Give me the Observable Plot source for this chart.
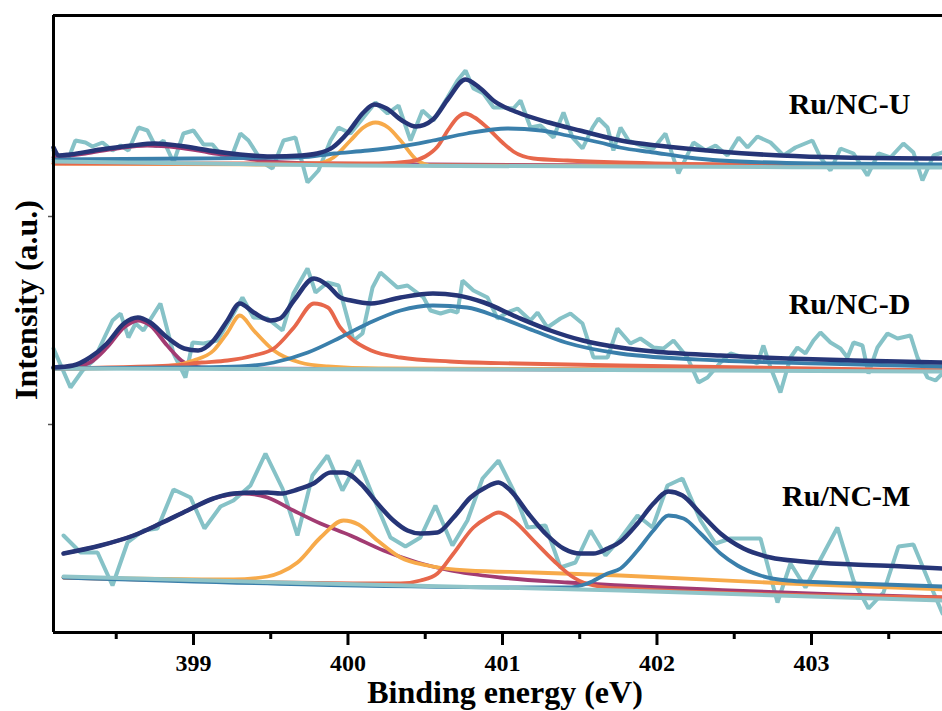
<!DOCTYPE html>
<html><head><meta charset="utf-8">
<script src="https://cdn.jsdelivr.net/npm/d3@7"></script>
<script src="https://cdn.jsdelivr.net/npm/@observablehq/plot@0.6"></script>
<style>html,body{margin:0;padding:0;background:#fff}</style>
</head><body><div id="chart"></div>
<script>
// ---------- axis ticks ----------
const xTicks = [399, 400, 401, 402, 403];
const xMinorTicks = [398.5, 399.5, 400.5, 401.5, 402.5, 403.5];
const yMinorTicks = [208, 416];
const sampleNames = ["Ru/NC-U", "Ru/NC-D", "Ru/NC-M"];
const sampleLabelY = [519, 319, 127];

// ---------- Ru/NC-U  ([binding energy eV, intensity a.u.]) ----------
const U_raw = [[398.094,482],[398.126,474],[398.178,469],[398.236,492],[398.301,490],[398.346,486],[398.411,490],[398.476,482],[398.528,487],[398.579,482],[398.644,505],[398.702,502],[398.754,486],[398.806,492],[398.871,470],[398.935,499],[399.000,502],[399.065,488],[399.123,488],[399.188,476],[399.252,478],[399.304,499],[399.356,492],[399.447,470],[399.511,464],[399.583,492],[399.660,495],[399.738,450],[399.809,462],[399.887,492],[399.939,505],[400.016,499],[400.178,530],[400.256,519],[400.327,527],[400.405,492],[400.482,522],[400.553,512],[400.644,535],[400.709,552],[400.761,562],[400.812,544],[400.877,539],[400.942,525],[401.006,525],[401.071,524],[401.117,532],[401.181,505],[401.246,507],[401.330,495],[401.395,520],[401.453,495],[401.518,484],[401.583,505],[401.621,514],[401.680,505],[401.718,482],[401.764,505],[401.816,492],[401.893,487],[401.977,484],[402.055,499],[402.139,459],[402.236,490],[402.314,482],[402.379,487],[402.456,477],[402.528,495],[402.586,485],[402.650,496],[402.735,490],[402.819,477],[402.896,485],[403.006,492],[403.058,475],[403.123,462],[403.188,484],[403.272,479],[403.362,457],[403.434,479],[403.511,475],[403.595,489],[403.660,480],[403.718,452],[403.790,477],[403.848,480]];
const U_envelope = [[398.094,485],[398.13,477],[398.2,478],[398.4,483],[398.6,487],[398.75,489],[398.9,487],[399.1,482],[399.3,478],[399.5,476],[399.7,477],[399.8,479],[399.9,485],[400.0,500],[400.1,520],[400.17,528],[400.25,524],[400.35,512],[400.44,506],[400.55,513],[400.65,534],[400.76,553],[400.85,545],[400.95,531],[401.1,520],[401.3,510],[401.5,502],[401.8,491],[402.0,487],[402.4,481],[402.8,477],[403.2,475],[403.848,474]];
const U_peak1 = [[398.094,475],[398.3,479],[398.5,484],[398.7,487],[398.9,485],[399.1,480],[399.3,475],[399.5,471],[399.8,469],[400.5,468],[403.848,466]];
const U_peak2 = [[398.094,469],[399.5,468],[399.8,469],[399.906,475],[400.016,492],[400.1,505],[400.178,510],[400.26,505],[400.34,492],[400.45,472],[400.55,467],[403.848,466]];
const U_peak3 = [[398.094,469],[400.2,469],[400.4,471],[400.5,476],[400.58,486],[400.65,503],[400.71,515],[400.76,519],[400.82,515],[400.9,505],[401.0,490],[401.07,481],[401.2,474],[401.42,472],[401.76,470],[402.5,468],[403.848,467]];
const U_peak4 = [[398.094,473],[399.0,474],[399.69,475],[399.91,479],[400.13,482],[400.34,486],[400.55,492],[400.77,499],[401.03,504],[401.25,502],[401.42,497],[401.63,490],[401.76,485],[401.98,480],[402.2,475],[402.41,472],[403.06,469],[403.848,468]];
const U_background = [[398.094,471],[400.0,467],[403.848,465]];

// ---------- Ru/NC-D ----------
const D_raw = [[398.094,284],[398.204,245],[398.282,262],[398.353,272],[398.476,312],[398.528,319],[398.579,295],[398.625,309],[398.676,302],[398.786,329],[398.871,279],[398.948,255],[398.994,290],[399.065,289],[399.155,292],[399.259,319],[399.317,335],[399.388,315],[399.479,314],[399.576,302],[399.647,339],[399.738,364],[399.790,340],[399.867,350],[399.939,347],[400.036,292],[400.094,299],[400.159,345],[400.210,360],[400.320,345],[400.385,347],[400.489,335],[400.534,322],[400.599,319],[400.663,322],[400.709,320],[400.741,352],[400.812,342],[400.903,335],[400.968,314],[401.032,320],[401.097,324],[401.181,312],[401.227,320],[401.291,305],[401.375,314],[401.440,319],[401.518,309],[401.589,275],[401.680,275],[401.744,304],[401.828,289],[401.893,294],[401.977,285],[402.042,284],[402.107,292],[402.197,275],[402.269,250],[402.327,255],[402.411,270],[402.476,279],[402.560,275],[402.650,269],[402.689,287],[402.735,265],[402.799,240],[402.864,275],[402.909,285],[402.961,279],[403.013,292],[403.058,300],[403.123,290],[403.188,284],[403.233,275],[403.272,290],[403.330,287],[403.369,259],[403.427,285],[403.492,299],[403.557,294],[403.641,297],[403.686,275],[403.751,255],[403.803,252],[403.848,259]];
const D_envelope = [[398.094,265],[398.22,267],[398.33,275],[398.44,289],[398.55,309],[398.64,315],[398.72,310],[398.83,295],[398.94,284],[399.03,282],[399.13,292],[399.22,312],[399.30,329],[399.39,320],[399.50,312],[399.56,314],[399.65,332],[399.78,354],[399.87,347],[399.95,335],[400.02,332],[400.15,329],[400.34,335],[400.55,339],[400.71,337],[400.88,330],[401.10,315],[401.31,302],[401.52,292],[401.76,285],[401.98,281],[402.41,277],[402.84,274],[403.27,272],[403.848,270]];
const D_peak1 = [[398.094,265],[398.22,266],[398.33,270],[398.44,285],[398.55,305],[398.64,312],[398.72,307],[398.83,287],[398.94,270],[399.05,265],[399.3,264],[403.848,262]];
const D_peak2 = [[398.094,264],[398.66,265],[398.87,267],[399.0,272],[399.13,282],[399.22,300],[399.30,317],[399.39,302],[399.52,282],[399.69,270],[399.87,266],[400.2,264],[403.848,262]];
const D_peak3 = [[398.094,264],[398.87,267],[399.05,270],[399.22,272],[399.39,277],[399.52,284],[399.65,305],[399.78,329],[399.87,325],[399.95,305],[400.02,294],[400.15,282],[400.34,275],[400.66,271],[401.10,269],[401.76,267],[403.848,262]];
const D_peak4 = [[398.094,264],[399.0,265],[399.3,266],[399.52,270],[399.74,280],[399.95,295],[400.13,309],[400.34,322],[400.55,327],[400.77,325],[400.98,315],[401.2,302],[401.41,290],[401.76,279],[402.41,272],[403.06,269],[403.848,266]];
const D_background = [[398.094,264],[401.0,263],[403.848,261]];

// ---------- Ru/NC-M ----------
const M_raw = [[398.159,97],[398.269,80],[398.379,80],[398.476,47],[398.573,90],[398.676,102],[398.767,104],[398.871,143],[398.981,135],[399.071,104],[399.175,126],[399.259,132],[399.369,147],[399.466,179],[399.576,144],[399.673,97],[399.770,157],[399.867,177],[399.964,142],[400.068,172],[400.165,135],[400.275,95],[400.372,86],[400.469,95],[400.566,127],[400.676,87],[400.773,112],[400.871,154],[400.974,172],[401.071,142],[401.162,105],[401.278,107],[401.375,65],[401.472,70],[401.570,102],[401.667,77],[401.764,94],[401.874,117],[401.971,105],[402.068,147],[402.165,154],[402.282,112],[402.379,89],[402.476,94],[402.670,94],[402.780,30],[402.864,69],[402.961,45],[403.168,105],[403.272,52],[403.369,24],[403.466,40],[403.563,86],[403.660,88],[403.757,52],[403.848,19]];
const M_envelope = [[398.159,79],[398.398,87],[398.612,97],[398.786,109],[398.961,122],[399.129,134],[399.259,139],[399.479,140],[399.563,139],[399.673,143],[399.777,149],[399.887,160],[399.971,160],[400.081,149],[400.191,129],[400.294,112],[400.385,102],[400.469,99],[400.579,100],[400.683,115],[400.793,135],[400.890,145],[400.974,150],[401.052,142],[401.162,120],[401.291,97],[401.395,84],[401.505,79],[401.589,79],[401.680,84],[401.764,91],[401.874,109],[401.977,129],[402.074,141],[402.165,137],[402.282,119],[402.411,99],[402.560,84],[402.735,75],[402.948,71],[403.272,68],[403.595,66],[403.848,64]];
const M_peak1 = [[398.159,79],[398.398,87],[398.612,97],[398.786,109],[398.961,122],[399.129,134],[399.324,139],[399.479,135],[399.647,122],[399.822,109],[400.016,97],[400.230,82],[400.450,70],[400.663,62],[400.987,55],[401.421,50],[401.764,47],[403.848,35]];
const M_peak2 = [[398.159,55],[399.259,53],[399.479,56],[399.563,60],[399.673,70],[399.822,95],[399.971,112],[400.068,108],[400.191,92],[400.340,75],[400.515,67],[400.773,62],[401.201,60],[401.764,57],[402.845,49],[403.848,43]];
const M_peak3 = [[398.159,55],[400.340,49],[400.469,52],[400.579,59],[400.683,79],[400.812,105],[400.903,115],[400.974,120],[401.071,112],[401.201,92],[401.330,72],[401.460,55],[401.589,47],[401.764,44],[403.848,35]];
const M_peak4 = [[398.159,55],[401.246,45],[401.421,45],[401.550,49],[401.680,59],[401.764,64],[401.874,82],[401.977,102],[402.074,117],[402.172,114],[402.282,99],[402.411,79],[402.521,67],[402.670,57],[402.845,52],[403.272,49],[403.848,46]];
const M_background = [[398.159,56],[399.822,49],[401.764,42],[403.848,32]];

// ---------- build long table ----------
const panels = {
  "Ru/NC-U": {raw: U_raw, envelope: U_envelope, peak1: U_peak1, peak2: U_peak2, peak3: U_peak3, peak4: U_peak4, background: U_background},
  "Ru/NC-D": {raw: D_raw, envelope: D_envelope, peak1: D_peak1, peak2: D_peak2, peak3: D_peak3, peak4: D_peak4, background: D_background},
  "Ru/NC-M": {raw: M_raw, envelope: M_envelope, peak1: M_peak1, peak2: M_peak2, peak3: M_peak3, peak4: M_peak4, background: M_background}
};
const rows = [];
for (const [panel, series] of Object.entries(panels)) {
  for (const [name, pts] of Object.entries(series)) {
    for (const [x, y] of pts) rows.push({panel, series: name, x, y});
  }
}
const sel = (s) => rows.filter(d => d.series === s);
const labels = sampleNames.map((t, i) => ({text: t, y: sampleLabelY[i]}));

const colors = {
  raw: "#86c2c7", envelope: "#263577", peak1: "#a23b72", peak2: "#f7aa4a",
  peak3: "#e7674b", peak4: "#3a7fab", background: "#8fc4c8"
};
const fit = (s, w) => Plot.line(sel(s), {x: "x", y: "y", z: "panel", stroke: colors[s], strokeWidth: w, curve: "monotone-x"});

const chart = Plot.plot({
  width: 942, height: 711,
  marginLeft: 53, marginRight: 0, marginTop: 15, marginBottom: 79,
  x: {domain: [398.094, 403.848]},
  y: {domain: [0, 617]},
  style: {fontFamily: "'Liberation Serif', 'Times New Roman', serif", fontWeight: "bold", color: "#000", background: "#fff"},
  marks: [
    Plot.line(sel("raw"), {x: "x", y: "y", z: "panel", stroke: colors.raw, strokeWidth: 4, strokeLinejoin: "miter"}),
    fit("peak1", 3.8),
    fit("peak2", 3.8),
    fit("peak3", 3.8),
    fit("peak4", 3.8),
    fit("background", 4),
    fit("envelope", 4.5),
    Plot.axisX(xMinorTicks, {tickSize: 7, strokeWidth: 3, tickFormat: () => "", label: null}),
    Plot.axisX(xTicks, {tickSize: 13, strokeWidth: 3, tickPadding: 8, fontSize: 24, fontWeight: "bold", tickFormat: d => String(d), label: null}),
    Plot.axisY(yMinorTicks, {tickSize: 5, strokeWidth: 1.5, stroke: "#555", tickFormat: () => "", label: null}),
    Plot.ruleY([0], {stroke: "#000", strokeWidth: 3}),
    Plot.ruleY([617], {stroke: "#000", strokeWidth: 3}),
    Plot.ruleX([398.094], {stroke: "#000", strokeWidth: 3}),
    Plot.text(labels, {x: () => 403.64, y: "y", text: "text", textAnchor: "end", lineAnchor: "bottom", fontSize: 30, fontWeight: "bold", fill: "#000"}),
    Plot.text(["Binding energy (eV)"], {frameAnchor: "bottom", textAnchor: "middle", dx: 7, dy: 70, lineAnchor: "bottom", fontSize: 32, fontWeight: "bold", fill: "#000"}),
    Plot.text(["Intensity (a.u.)"], {frameAnchor: "left", textAnchor: "middle", rotate: -90, dx: -17, dy: -24, lineAnchor: "bottom", fontSize: 32, fontWeight: "bold", fill: "#000"})
  ]
});
document.getElementById("chart").appendChild(chart);
</script>
</body></html>
